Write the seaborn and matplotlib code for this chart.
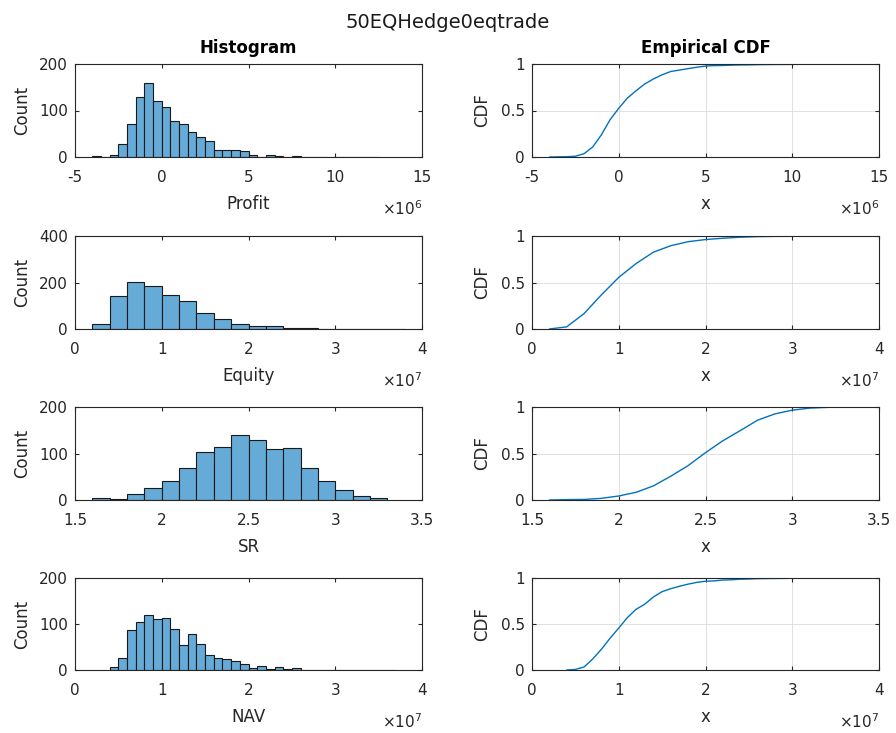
import numpy as np
import pandas as pd
import matplotlib
matplotlib.use("Agg")
import matplotlib.pyplot as plt
from matplotlib.ticker import FuncFormatter
import seaborn as sns

sns.set_theme(style="white")
plt.rcParams["font.family"] = ["DejaVu Sans"]
plt.rcParams["axes.unicode_minus"] = False

suptitle = "50EQHedge0eqtrade"

# Profit: bins of 0.5e6 starting at -4e6
profit_start, profit_width = -4.0e6, 0.5e6
profit_counts = [2, 1, 5, 27, 71, 129, 159, 121, 108, 78, 71, 53, 44, 35, 15, 15,
                 15, 12, 5, 1, 4, 2, 1, 2, 1, 1, 0, 1, 1, 1, 0, 1, 1]

# Equity: bins of 0.2e7 starting at 0.2e7
equity_start, equity_width = 0.2e7, 0.2e7
equity_counts = [23, 142, 201, 187, 148, 122, 69, 43, 23, 14, 11, 6, 3, 1, 1, 0, 1, 1]

# SR: bins of 0.1 starting at 1.6
sr_start, sr_width = 1.6, 0.1
sr_counts = [4, 2, 12, 25, 40, 69, 104, 114, 139, 128, 109, 112, 68, 40, 22, 8, 4]

# NAV: bins of 0.1e7 starting at 0.4e7
nav_start, nav_width = 0.4e7, 0.1e7
nav_counts = [6, 26, 87, 104, 119, 110, 113, 89, 55, 78, 57, 32, 26, 23, 19, 12,
              4, 9, 3, 6, 2, 4, 1, 1, 1, 1, 0, 1, 0, 1, 0, 0, 1]

var_names = ["Profit", "Equity", "SR", "NAV"]
x_limits = [(-5e6, 15e6), (0, 4e7), (1.5, 3.5), (0, 4e7)]
x_ticks = [[-5e6, 0, 5e6, 10e6, 15e6],
           [0, 1e7, 2e7, 3e7, 4e7],
           [1.5, 2, 2.5, 3, 3.5],
           [0, 1e7, 2e7, 3e7, 4e7]]
y_limits = [(0, 200), (0, 400), (0, 200), (0, 200)]
y_ticks = [[0, 100, 200], [0, 200, 400], [0, 100, 200], [0, 100, 200]]
sci_power = [6, 7, None, 7]

series = [
    (profit_start, profit_width, profit_counts),
    (equity_start, equity_width, equity_counts),
    (sr_start, sr_width, sr_counts),
    (nav_start, nav_width, nav_counts),
]

W, H = 896, 733
fig = plt.figure(figsize=(W / 100, H / 100), dpi=100)

ink = "#262626"
bar_face = "#66AAD7"
line_col = "#0072BD"

left_x = [75, 532]
ax_w = 347
rows = [(64, 157), (236, 329), (407, 500), (578, 670)]


def style_axes(ax):
    for s in ax.spines.values():
        s.set_color(ink)
        s.set_linewidth(0.8)
        s.set_visible(True)
    ax.tick_params(direction="in", length=3, width=0.8, colors=ink,
                   labelsize=11, top=True, right=True, bottom=True, left=True)
    ax.tick_params(axis="x", pad=9.5)
    ax.tick_params(axis="y", pad=5)
    ax.xaxis.label.set_color(ink)
    ax.yaxis.label.set_color(ink)


def tick_formatter(power):
    scale = 10.0 ** power if power is not None else 1.0
    return FuncFormatter(lambda v, pos: f"{v / scale:g}")


def add_power_label(ax, power):
    if power is None:
        return
    ax.annotate(rf"$\times 10^{{{power}}}$", xy=(1, 0), xycoords="axes fraction",
                xytext=(0, -58), textcoords="offset pixels",
                ha="right", va="baseline", fontsize=11, color=ink)


for i, (start, width, counts) in enumerate(series):
    counts = np.asarray(counts, dtype=float)
    edges = start + width * np.arange(len(counts) + 1)
    centers = 0.5 * (edges[:-1] + edges[1:])
    top, bot = rows[i]

    # Histogram panel
    axh = fig.add_axes([left_x[0] / W, 1 - bot / H, ax_w / W, (bot - top) / H])
    df = pd.DataFrame({"value": centers, "count": counts})
    sns.histplot(data=df, x="value", weights="count", bins=[float(e) for e in edges],
                 ax=axh, color=bar_face, alpha=1.0, edgecolor="#1a1a1a",
                 linewidth=0.8)
    axh.set_xlim(*x_limits[i])
    axh.set_ylim(*y_limits[i])
    axh.set_xticks(x_ticks[i])
    axh.set_yticks(y_ticks[i])
    axh.xaxis.set_major_formatter(tick_formatter(sci_power[i]))
    axh.set_xlabel(var_names[i], fontsize=12, labelpad=7)
    axh.set_ylabel("Count", fontsize=12, labelpad=6)
    style_axes(axh)
    add_power_label(axh, sci_power[i])

    # Empirical CDF panel
    axc = fig.add_axes([left_x[1] / W, 1 - bot / H, ax_w / W, (bot - top) / H])
    cdf = np.concatenate([[0.0], np.cumsum(counts)]) / counts.sum()
    cdf_df = pd.DataFrame({"x": edges, "F": cdf})
    sns.lineplot(data=cdf_df, x="x", y="F", ax=axc, color=line_col,
                 linewidth=1.0, estimator=None, sort=False)
    axc.set_xlim(*x_limits[i])
    axc.set_ylim(0, 1)
    axc.set_xticks(x_ticks[i])
    axc.set_yticks([0, 0.5, 1])
    axc.set_yticklabels(["0", "0.5", "1"])
    axc.xaxis.set_major_formatter(tick_formatter(sci_power[i]))
    axc.grid(True, color="#dcdcdc", linewidth=0.6)
    axc.set_axisbelow(True)
    axc.set_xlabel("x", fontsize=12, labelpad=7)
    axc.set_ylabel("CDF", fontsize=12, labelpad=7)
    style_axes(axc)
    add_power_label(axc, sci_power[i])

    if i == 0:
        axh.set_title("Histogram", fontsize=12, fontweight="bold", color="black", pad=8)
        axc.set_title("Empirical CDF", fontsize=12, fontweight="bold", color="black", pad=8)

fig.text(0.5, 1 - 22 / H, suptitle, ha="center", va="center", fontsize=14, color="#1a1a1a")

fig.savefig("out.png", dpi=100, facecolor="white")
